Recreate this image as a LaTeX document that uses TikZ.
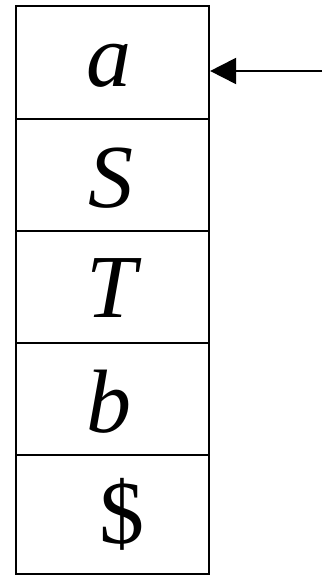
\documentclass[tikz,border=0pt]{standalone}
\usepackage{fontspec}
\setmainfont{Liberation Serif}
\usetikzlibrary{arrows.meta}
\tikzset{
  cell/.style={draw=black, line width=2.2pt, minimum width=193pt, inner sep=0pt},
  sym/.style={anchor=base, inner sep=0pt, font=\fontsize{90}{96}\selectfont\itshape},
  ptr/.style={line width=2pt, -{Triangle[length=26pt,width=26pt]}}
}
\begin{document}
\begin{tikzpicture}[x=1pt,y=1pt]
\useasboundingbox (0,0) rectangle (329,576);
\node[cell, minimum height=112.7pt] (c1) at (112.5,513.65) {};
\node[cell, minimum height=112.6pt] (c2) at (112.5,401) {};
\node[cell, minimum height=111.7pt] (c3) at (112.5,288.85) {};
\node[cell, minimum height=111.7pt] (c4) at (112.5,177.15) {};
\node[cell, minimum height=119.3pt] (c5) at (112.5,61.65) {};
\node[sym] (ta) at (109,489) {a};
\node[sym] (tS) at (111,368) {S};
\node[sym] (tT) at (112,258) {T};
\node[sym] (tb) at (109,143) {b};
\node[sym] (td) at (122,32) {\upshape\$};
\coordinate (s) at (322,505);
\draw[ptr] (s) -- (c1.east |- s);
\end{tikzpicture}
\end{document}
